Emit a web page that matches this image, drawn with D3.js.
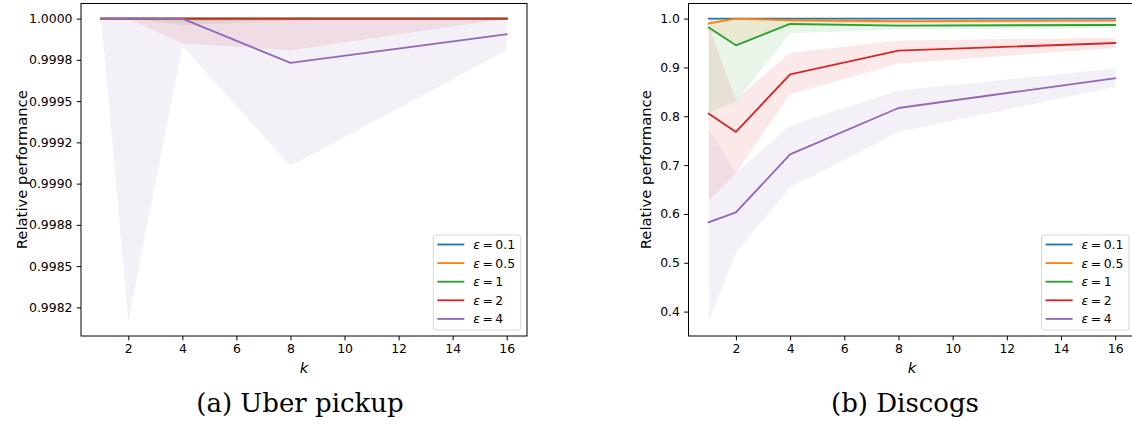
<!DOCTYPE html>
<html>
<head>
<meta charset="utf-8">
<script src="https://cdnjs.cloudflare.com/ajax/libs/d3/7.8.5/d3.min.js"></script>
<style>
  body { margin: 0; background: #fff; }
  text { font-family: "DejaVu Sans", sans-serif; fill: #000; }
</style>
</head>
<body>
<div id="chart"></div>
<script>
// Data
var kValues = [1, 2, 4, 8, 16];
var epsLabels = ["0.1", "0.5", "1", "2", "4"];
var colors = ["#1f77b4", "#ff7f0e", "#2ca02c", "#d62728", "#9467bd"];
var xTicks = [2, 4, 6, 8, 10, 12, 14, 16];

// (a) Uber pickup - one row per epsilon
var uberMean = [
  [1, 1, 1, 1, 1],
  [1, 1, 1, 1, 1],
  [1, 1, 1, 1, 1],
  [1, 1, 1, 1, 1],
  [1, 1, 1, 0.999732, 0.999905]
];
var uberLow = [
  [1, 1, 1, 1, 1],
  [1, 1, 0.99998, 0.999992, 1],
  [1, 1, 0.99996, 0.999988, 1],
  [1, 1, 0.99985, 0.999808, 1],
  [1, 0.998168, 0.999836, 0.999106, 0.999808]
];
var uberHigh = [
  [1, 1, 1, 1, 1],
  [1, 1, 1, 1, 1],
  [1, 1, 1, 1, 1],
  [1, 1, 1, 1, 1],
  [1, 1, 1, 1, 1]
];
var uberTicks = [0.99825, 0.9985, 0.99875, 0.999, 0.99925, 0.9995, 0.99975, 1.0];
var uberTickLabels = ["0.9982", "0.9985", "0.9988", "0.9990", "0.9992", "0.9995", "0.9998", "1.0000"];

// (b) Discogs
var discogsMean = [
  [1, 1, 1, 1, 1],
  [0.990, 1.0, 0.9966, 0.9945, 0.996],
  [0.9816, 0.9454, 0.989, 0.9857, 0.987],
  [0.805, 0.768, 0.886, 0.9346, 0.950],
  [0.583, 0.603, 0.722, 0.817, 0.878]
];
var discogsLow = [
  [0.999, 0.999, 0.999, 0.999, 0.999],
  [0.975, 0.948, 0.99, 0.99, 0.993],
  [0.807, 0.83, 0.97, 0.9775, 0.981],
  [0.626, 0.684, 0.845, 0.908, 0.940],
  [0.381, 0.521, 0.654, 0.768, 0.860]
];
var discogsHigh = [
  [1, 1, 1, 1, 1],
  [1, 1, 1, 1, 1],
  [1, 1, 1, 0.994, 0.993],
  [0.985, 0.834, 0.93, 0.955, 0.961],
  [0.773, 0.684, 0.781, 0.853, 0.898]
];
var discogsTicks = [0.4, 0.5, 0.6, 0.7, 0.8, 0.9, 1.0];
var discogsTickLabels = ["0.4", "0.5", "0.6", "0.7", "0.8", "0.9", "1.0"];

var captions = ["(a) Uber pickup", "(b) Discogs"];

var tickFont = "12.4px";   // tick + legend text
var labelFont = "14.8px";  // axis labels

var svg = d3.select("#chart")
  .append("svg")
  .attr("width", 1132)
  .attr("height", 431);

// Ve mot panel
function drawPanel(p) {
  // matplotlib style 5% margins
  var allLow = d3.min(p.low, function(r) { return d3.min(r); });
  var allHigh = d3.max(p.high, function(r) { return d3.max(r); });
  var pad = (allHigh - allLow) * 0.05;

  var x = d3.scaleLinear()
    .domain([1 - 0.75, 16 + 0.75])
    .range([p.left, p.right]);

  var y = d3.scaleLinear()
    .domain([allLow - pad, allHigh + pad])
    .range([p.bottom, p.top]);

  var g = svg.append("g");

  var clipId = "clip" + p.id;
  g.append("clipPath").attr("id", clipId)
    .append("rect")
    .attr("x", p.left).attr("y", p.top)
    .attr("width", p.right - p.left).attr("height", p.bottom - p.top);

  var plot = g.append("g").attr("clip-path", "url(#" + clipId + ")");

  // bands first
  var area = d3.area()
    .x(function(d) { return x(d.k); })
    .y0(function(d) { return y(d.lo); })
    .y1(function(d) { return y(d.hi); });

  p.mean.forEach(function(row, i) {
    var pts = kValues.map(function(k, j) { return { k: k, lo: p.low[i][j], hi: p.high[i][j] }; });
    plot.append("path")
      .attr("d", area(pts))
      .attr("fill", colors[i])
      .attr("fill-opacity", 0.1);
  });

  var line = d3.line()
    .x(function(d) { return x(d.k); })
    .y(function(d) { return y(d.v); });

  p.mean.forEach(function(row, i) {
    var pts = kValues.map(function(k, j) { return { k: k, v: row[j] }; });
    plot.append("path")
      .attr("d", line(pts))
      .attr("fill", "none")
      .attr("stroke", colors[i])
      .attr("stroke-width", 1.85)
      .attr("stroke-linejoin", "round")
      .attr("stroke-linecap", "square");
  });

  // axes
  var xAxis = g.append("g")
    .attr("transform", "translate(0," + p.bottom + ")")
    .call(d3.axisBottom(x).tickValues(xTicks).tickSize(4.3).tickPadding(4.3));
  var yAxis = g.append("g")
    .attr("transform", "translate(" + p.left + ",0)")
    .call(d3.axisLeft(y).tickValues(p.ticks).tickFormat(function(d, i) { return p.tickLabels[i]; })
      .tickSize(4.3).tickPadding(4.3));

  [xAxis, yAxis].forEach(function(a) {
    a.select(".domain").remove();
    a.selectAll("line").attr("stroke", "#000").attr("stroke-width", 1);
    a.selectAll("text").attr("font-size", tickFont).attr("font-family", "DejaVu Sans").attr("fill", "#000");
  });

  // spines
  g.append("rect")
    .attr("x", p.left).attr("y", p.top)
    .attr("width", p.right - p.left).attr("height", p.bottom - p.top)
    .attr("fill", "none")
    .attr("stroke", "#000")
    .attr("stroke-width", 1);

  // axis labels
  g.append("text")
    .attr("transform", "translate(" + p.ylabelX + "," + ((p.top + p.bottom) / 2) + ")rotate(-90)")
    .attr("text-anchor", "middle")
    .attr("font-size", labelFont)
    .text("Relative performance");

  g.append("text")
    .attr("x", x(8.5))
    .attr("y", 373)
    .attr("text-anchor", "middle")
    .attr("font-size", labelFont)
    .attr("font-style", "italic")
    .text("k");

  // legend
  var lx = p.legendRight - 87.4, ly = p.bottom - 6 - 95;
  var leg = g.append("g").attr("transform", "translate(" + lx + "," + ly + ")");
  leg.append("rect")
    .attr("width", 87.4).attr("height", 95)
    .attr("rx", 2.5)
    .attr("fill", "#fff").attr("fill-opacity", 0.8)
    .attr("stroke", "#d6d6d6").attr("stroke-width", 1);

  epsLabels.forEach(function(e, i) {
    var ry = 9.5 + i * 18.6;
    leg.append("line")
      .attr("x1", 4).attr("x2", 31)
      .attr("y1", ry).attr("y2", ry)
      .attr("stroke", colors[i]).attr("stroke-width", 1.85);
    var t = leg.append("text")
      .attr("x", 40).attr("y", ry + 4.5)
      .attr("font-size", tickFont);
    t.append("tspan").attr("font-style", "italic").text("\u03b5");
    t.append("tspan").text("\u2009=\u2009" + e);
  });

  // caption
  svg.append("text")
    .attr("x", p.captionX)
    .attr("y", 412)
    .attr("text-anchor", "middle")
    .attr("font-size", "26px")
    .style("font-family", "'DejaVu Serif', serif")
    .text(p.caption);
}

drawPanel({
  id: "a", left: 81, right: 527, top: 3.5, bottom: 336,
  mean: uberMean, low: uberLow, high: uberHigh,
  ticks: uberTicks, tickLabels: uberTickLabels,
  ylabelX: 26.5, legendRight: 520.7, captionX: 300, caption: captions[0]
});

drawPanel({
  id: "b", left: 688.5, right: 1135.5, top: 3.5, bottom: 336,
  mean: discogsMean, low: discogsLow, high: discogsHigh,
  ticks: discogsTicks, tickLabels: discogsTickLabels,
  ylabelX: 651, legendRight: 1129, captionX: 905, caption: captions[1]
});
</script>
</body>
</html>
